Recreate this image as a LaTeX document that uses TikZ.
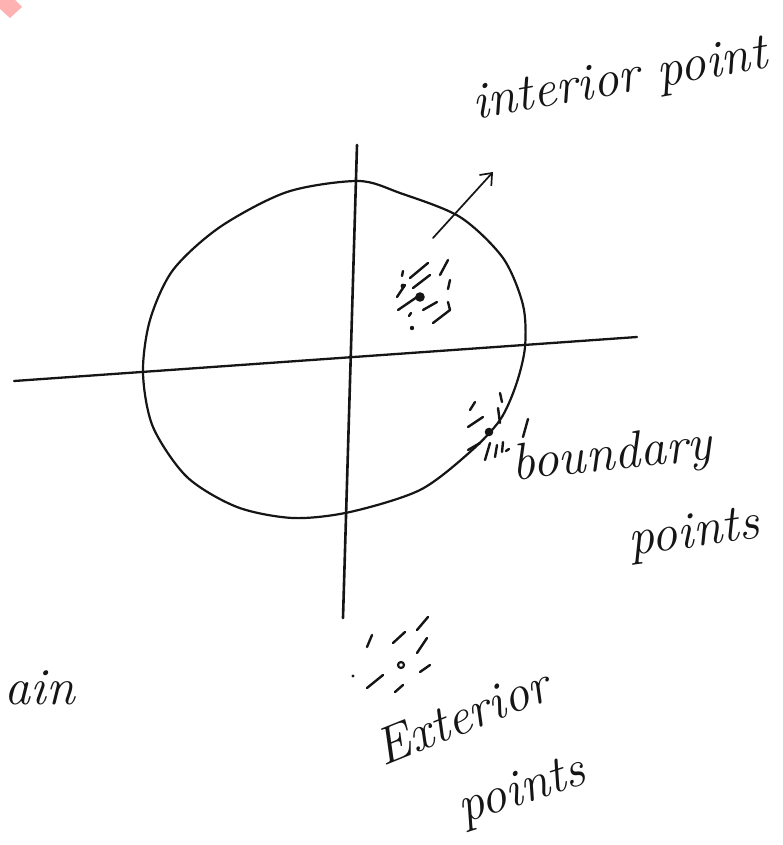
\documentclass[tikz,border=0pt]{standalone}
\usetikzlibrary{arrows.meta}
\definecolor{inkc}{HTML}{151515}
\definecolor{pinkmark}{HTML}{FFB2B2}
\begin{document}
\begin{tikzpicture}[x=1pt,y=-1pt,
  ink/.style={line width=2.2pt, line cap=round, line join=round, draw=inkc},
  hatch/.style={line width=2.4pt, line cap=round, draw=inkc},
  lbl/.style={font=\fontsize{52}{52}\selectfont\itshape, text=inkc, inner sep=0pt}]
\useasboundingbox (0,0) rectangle (783,845);
\fill[white] (0,0) rectangle (783,845);
\fill[pinkmark] (0,0) -- (0,9) -- (10,18) -- (22,7) -- (15,0) -- cycle;
% axes
\coordinate (hl) at (14,381); \coordinate (hr) at (637,337);
\coordinate (vt) at (357,145); \coordinate (vb) at (343,618);
\draw[ink, line width=2.3pt] (hl) -- (hr);
\draw[ink, line width=2.6pt] (vt) -- (vb);
% region
\draw[ink] plot[smooth cycle, tension=0.5] coordinates {(358,181) (400,193) (460,217) (503,258) (523,305) (525,347) (516,385) (500,420) (470,452) (420,490) (350,512) (293,518) (237,507) (187,477) (153,427) (143,373) (150,320) (173,270) (220,227) (287,192)};
% arrow
\coordinate (as) at (433,238); \coordinate (ae) at (493,172);
\draw[ink, line width=1.7pt, -{Straight Barb[length=10pt,width=16pt,line width=1.7pt]}] (as) -- (ae);
% interior point
\fill[inkc] (420,297) circle (4.8pt);
\fill[inkc] (403,286) circle (2.4pt);
\fill[inkc] (412,328) circle (2.2pt);
\draw[hatch] (402,276) -- (403,271);
\draw[hatch] (410,278) -- (428,263);
\draw[hatch] (440,275) -- (448,260);
\draw[hatch] (397,297) -- (405,285);
\draw[hatch] (413,288) -- (430,275);
\draw[hatch] (448,289) -- (450,280);
\draw[hatch] (398,310) -- (417,297);
\draw[hatch] (423,310) -- (437,302);
\draw[hatch] (433,323) -- (450,310);
\draw[hatch] (448,302) -- (450,310);
\draw[hatch] (409,316) -- (411,313);
% boundary point
\fill[inkc] (489,432) circle (4.3pt);
\draw[hatch] (470,410) -- (475,402);
\draw[hatch] (500,393) -- (502,402);
\draw[hatch] (468,427) -- (483,417);
\draw[hatch] (498,408) -- (500,423);
\draw[hatch] (468,450) -- (480,443);
\draw[hatch] (485,460) -- (490,443);
\draw[hatch] (495,457) -- (497,445);
\draw[hatch] (502,452) -- (503,442);
\draw[hatch] (506,451) -- (509,449);
\draw[hatch] (523,437) -- (528,419);
% exterior point
\draw[ink, line width=2.2pt] (401,665) circle (3pt);
\fill[inkc] (353,676) circle (1.6pt);
\draw[hatch] (367,647) -- (372,635);
\draw[hatch] (393,643) -- (405,632);
\draw[hatch] (417,630) -- (428,617);
\draw[hatch] (417,653) -- (427,638);
\draw[hatch] (420,672) -- (430,665);
\draw[hatch] (367,688) -- (383,675);
\draw[hatch] (395,692) -- (403,685);
% labels
\node[lbl, rotate=10] (tint) at (620,82) {interior point};
\node[lbl, rotate=6] (tbnd) at (612,457) {boundary};
\node[lbl, rotate=8] (tbpts) at (694,535) {points};
\node[lbl, rotate=22] (text) at (462,716) {Exterior};
\node[lbl, rotate=18] (tepts) at (522,792) {points};
\node[lbl] (tain) at (40,688) {ain};
\end{tikzpicture}
\end{document}
